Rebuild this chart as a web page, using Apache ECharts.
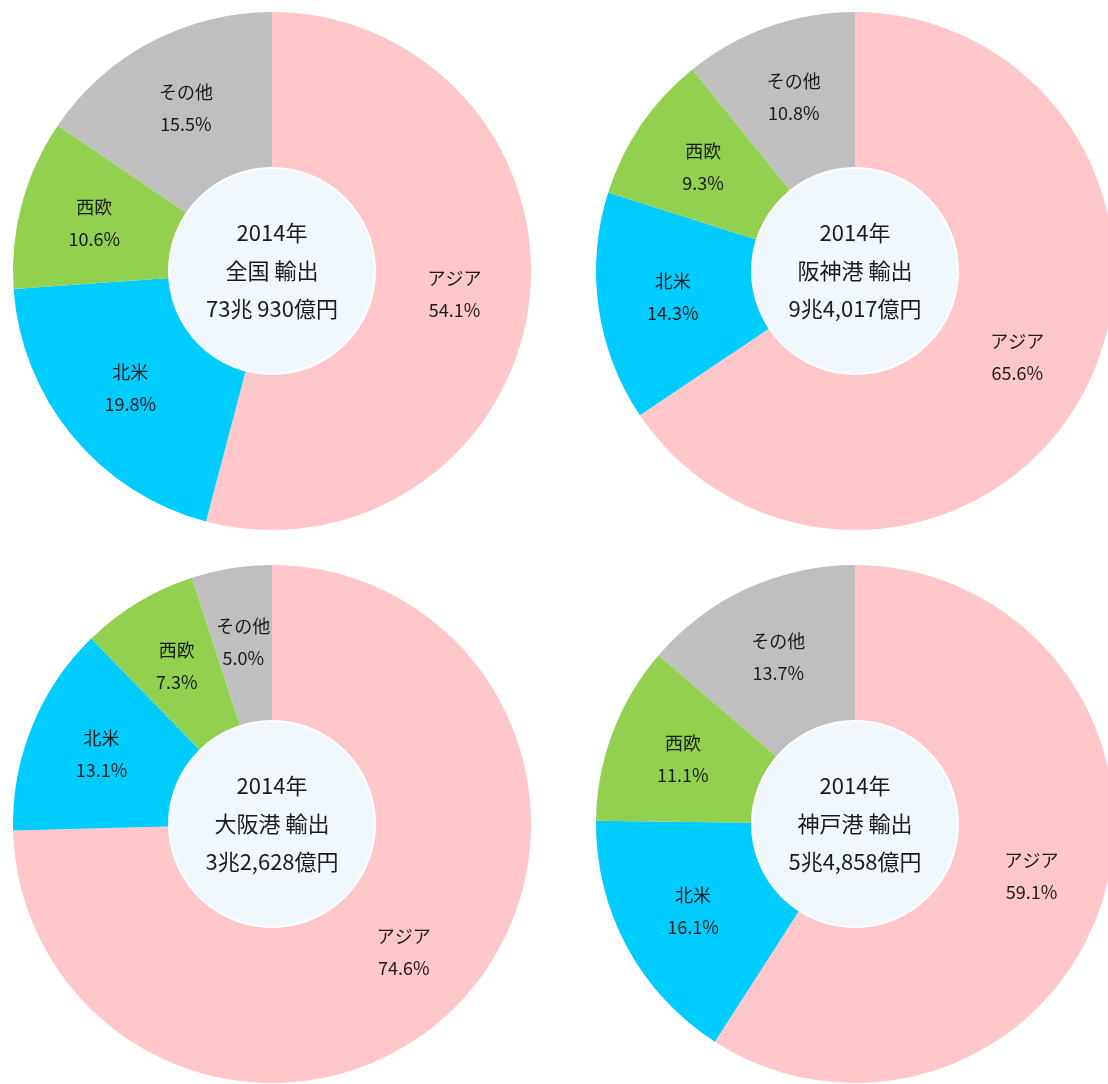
<!DOCTYPE html>
<html><head><meta charset="utf-8">
<script src="https://cdn.jsdelivr.net/npm/echarts@6/dist/echarts.min.js"></script>
<style>html,body{margin:0;padding:0;background:#fff}#c{width:1108px;height:1084px}</style>
</head><body><div id="c"></div>
<script>
const categories = ['アジア', '北米', '西欧', 'その他'];
const zenkoku = [54.1, 19.8, 10.6, 15.5];
const hanshin = [65.6, 14.3, 9.3, 10.8];
const osaka = [74.6, 13.1, 7.3, 5.0];
const kobe = [59.1, 16.1, 11.1, 13.7];
const titles = [
  '2014年\n全国 輸出\n73兆 930億円',
  '2014年\n阪神港 輸出\n9兆4,017億円',
  '2014年\n大阪港 輸出\n3兆2,628億円',
  '2014年\n神戸港 輸出\n5兆4,858億円'
];
const colors = ['#FFC7CA', '#00CCFF', '#92D050', '#BFBFBF'];
const datasets = [zenkoku, hanshin, osaka, kobe];
const centers = [[272, 271], [855, 271], [272, 824], [855, 824]];
const font = '"Noto Sans CJK JP", "Noto Sans", sans-serif';

const series = [];
datasets.forEach((vals, i) => {
  series.push({
    type: 'pie',
    center: centers[i],
    radius: [103, 259],
    startAngle: 90,
    clockwise: true,
    silent: true,
    animation: false,
    avoidLabelOverlap: false,
    label: {
      show: true,
      position: 'inside',
      color: '#1a1a1a',
      fontSize: 18,
      lineHeight: 32,
      fontFamily: font,
      formatter: p => p.name + '\n' + p.value.toFixed(1) + '%'
    },
    labelLine: { show: false },
    itemStyle: { borderWidth: 0 },
    data: categories.map((c, k) => ({ name: c, value: vals[k], itemStyle: { color: colors[k] } }))
  });
  series.push({
    type: 'pie',
    center: centers[i],
    radius: [0, 103],
    silent: true,
    animation: false,
    label: {
      show: true,
      position: 'center',
      color: '#1a1a1a',
      fontSize: 22,
      lineHeight: 38,
      fontFamily: font,
      formatter: () => titles[i]
    },
    labelLine: { show: false },
    itemStyle: { color: '#F0F8FD', borderColor: '#ffffff', borderWidth: 2 },
    data: [{ name: 'c', value: 1 }]
  });
});

const chart = echarts.init(document.getElementById('c'), null, { renderer: 'canvas' });
chart.setOption({ backgroundColor: '#ffffff', animation: false, series });
</script></body></html>
